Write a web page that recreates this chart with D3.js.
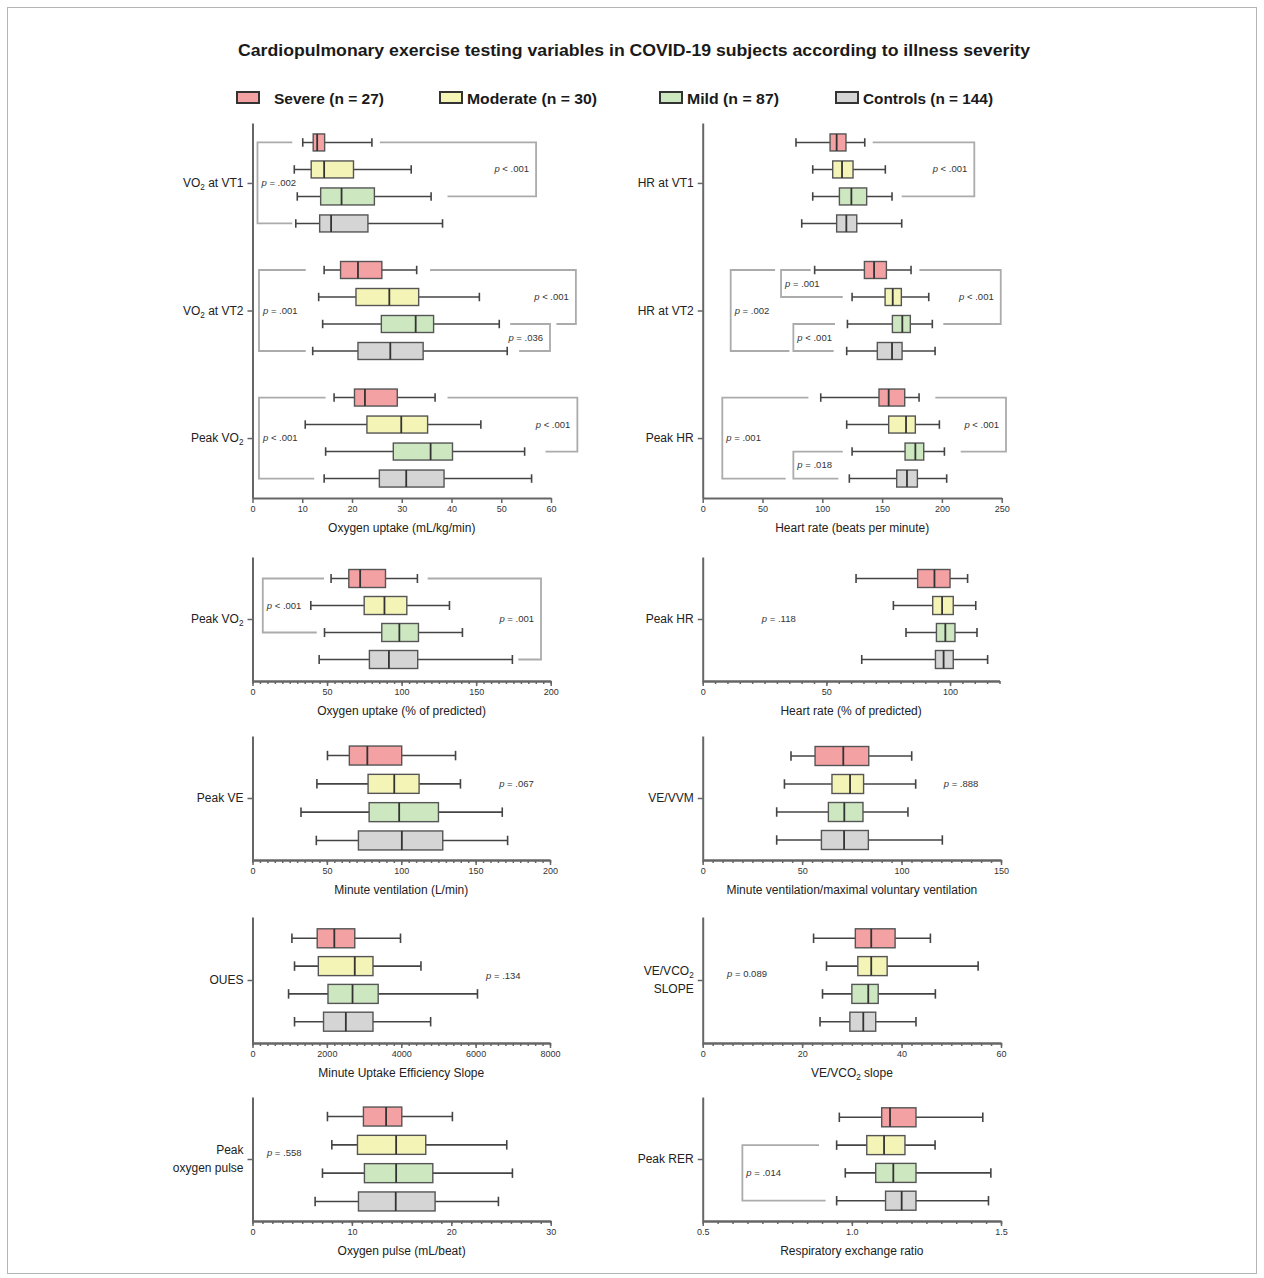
<!DOCTYPE html>
<html>
<head>
<meta charset="utf-8">
<script src="https://cdn.jsdelivr.net/npm/d3@7"></script>
<style>
  body { margin: 0; background: #fff; }
  svg  { font-family: "Liberation Sans", Arial, Helvetica, sans-serif; }
</style>
</head>
<body>
<div id="svg-container"></div>
<script>
// ---- data ---------------------------------------------------------------
// groups, in row order inside every category
var groups      = ["Severe (n = 27)", "Moderate (n = 30)", "Mild (n = 87)", "Controls (n = 144)"];
var groupColors = ["#f4a1a3", "#f5f4b7", "#cde8c1", "#d5d5d5"];

// every stat = [whisker low, q1, median, q3, whisker high], one per group
var vo2Labels = ["VO{2} at VT1", "VO{2} at VT2", "Peak VO{2}"];
var vo2Stats  = [
  [[10.1, 12.2, 13.0, 14.5, 24.0], [8.4, 11.8, 14.4, 20.3, 31.9], [9.0, 13.7, 17.9, 24.5, 35.9], [8.7, 13.5, 15.8, 23.2, 38.2]],
  [[14.4, 17.7, 21.2, 26.0, 33.0], [13.3, 20.8, 27.5, 33.4, 45.6], [14.1, 25.9, 32.8, 36.4, 49.6], [12.1, 21.2, 27.7, 34.3, 51.2]],
  [[16.4, 20.5, 22.6, 29.1, 36.7], [10.6, 23.0, 29.9, 35.2, 45.9], [14.7, 28.3, 35.8, 40.2, 54.7], [14.4, 25.5, 30.9, 38.5, 56.1]]
];
var vo2Ticks = [0, 10, 20, 30, 40, 50, 60];

var hrLabels = ["HR at VT1", "HR at VT2", "Peak HR"];
var hrStats  = [
  [[78.0, 106.5, 112.0, 119.8, 135.5], [92.0, 108.7, 116.5, 125.7, 152.7], [92.0, 114.3, 124.3, 137.1, 158.3], [82.8, 112.0, 120.1, 128.8, 166.4]],
  [[93.6, 135.2, 143.3, 153.6, 174.2], [124.9, 152.5, 158.9, 166.1, 189.0], [121.0, 158.6, 166.9, 173.6, 192.0], [120.4, 146.0, 158.3, 166.7, 194.3]],
  [[98.7, 147.4, 155.5, 168.9, 180.9], [120.4, 155.5, 170.0, 177.8, 197.9], [124.9, 169.2, 177.8, 184.8, 202.1], [122.6, 162.2, 170.8, 179.5, 204.0]]
];
var hrTicks = [0, 50, 100, 150, 200, 250];

var pctVo2Labels = ["Peak VO{2}"];
var pctVo2Stats  = [[[52.7, 64.6, 72.2, 89.2, 110.6], [39.1, 74.9, 88.5, 103.5, 132.1], [48.3, 86.7, 98.5, 111.3, 140.8], [44.7, 78.4, 91.5, 110.8, 174.3]]];
var pctVo2Ticks  = [0, 50, 100, 150, 200];

var pctHrLabels = ["Peak HR"];
var pctHrStats  = [[[62.0, 86.9, 93.7, 100.0, 107.1], [77.1, 93.0, 96.8, 101.3, 110.4], [82.2, 94.5, 98.1, 102.0, 110.9], [64.3, 94.1, 97.4, 101.3, 115.2]]];
var pctHrTicks  = [0, 50, 100];

var veLabels = ["Peak VE"];
var veStats  = [[[50.4, 65.1, 77.2, 100.3, 136.5], [43.3, 77.7, 95.3, 112.0, 139.8], [32.6, 78.4, 98.6, 125.0, 167.9], [42.9, 71.2, 100.4, 127.9, 171.5]]];
var veTicks  = [0, 50, 100, 150, 200];

var vvmLabels = ["VE/VVM"];
var vvmStats  = [[[44.4, 56.5, 70.7, 83.5, 105.1], [41.1, 65.0, 74.1, 80.9, 107.1], [37.2, 63.2, 71.2, 80.6, 103.2], [37.2, 59.7, 71.1, 83.3, 120.5]]];
var vvmTicks  = [0, 50, 100, 150];

var ouesLabels = ["OUES"];
var ouesStats  = [[[1060, 1740, 2200, 2750, 3980], [1130, 1770, 2750, 3240, 4530], [970, 2030, 2690, 3380, 6050], [1130, 1910, 2510, 3240, 4790]]];
var ouesTicks  = [0, 2000, 4000, 6000, 8000];

var slopeLabels = ["VE/VCO{2}|SLOPE"];
var slopeStats  = [[[22.3, 30.7, 33.9, 38.7, 45.8], [24.9, 31.2, 33.9, 37.1, 55.4], [24.1, 30.0, 33.3, 35.3, 46.8], [23.6, 29.6, 32.3, 34.8, 42.9]]];
var slopeTicks  = [0, 20, 40, 60];

var pulseLabels = ["Peak|oxygen pulse"];
var pulseStats  = [[[7.54, 11.16, 13.44, 15.02, 20.11], [7.98, 10.56, 14.45, 17.43, 25.58], [7.04, 11.26, 14.45, 18.14, 26.15], [6.30, 10.66, 14.41, 18.37, 24.74]]];
var pulseTicks  = [0, 10, 20, 30];

var rerLabels = ["Peak RER"];
var rerStats  = [[[0.958, 1.100, 1.128, 1.215, 1.439], [0.949, 1.050, 1.108, 1.178, 1.279], [0.978, 1.080, 1.139, 1.215, 1.466], [0.949, 1.113, 1.167, 1.215, 1.458]]];
var rerTicks  = [0.5, 1.0, 1.5];

// significance brackets: [category, first row, last row, vertical at, first end, second end, p text]
var vo2Brackets = [
  [0, 0, 3, 1.0, 8.0, 8.0, "= .002"],
  [0, 0, 2, 57.0, 25.6, 39.2, "< .001"],
  [1, 0, 3, 1.3, 10.7, 10.7, "= .001"],
  [1, 0, 2, 65.0, 35.7, 61.1, "< .001"],
  [1, 2, 3, 59.8, 51.8, 53.6, "= .036"],
  [2, 0, 3, 1.3, 14.7, 12.4, "< .001"],
  [2, 0, 2, 65.3, 39.2, 58.9, "< .001"]
];
var hrBrackets = [
  [0, 0, 2, 227.1, 142.1, 166.4, "< .001"],
  [1, 0, 3, 23.4, 60.5, 72.5, "= .002"],
  [1, 0, 1, 65.5, 90.3, 117.1, "= .001"],
  [1, 2, 3, 75.8, 110.6, 109.5, "< .001"],
  [1, 0, 2, 249.2, 181.2, 201.2, "< .001"],
  [2, 0, 3, 16.4, 88.4, 69.4, "= .001"],
  [2, 2, 3, 75.8, 117.1, 113.4, "= .018"],
  [2, 0, 2, 253.6, 194.5, 215.7, "< .001"]
];
var pctVo2Brackets = [
  [0, 0, 2, 6.9, 48.0, 43.1, "< .001"],
  [0, 0, 3, 193.5, 117.5, 178.3, "= .001"]
];
var rerBrackets = [
  [0, 1, 3, 0.633, 0.890, 0.912, "= .014"]
];

// free p values: [category, row position, x value, p text]
var pctHrNotes = [[0, 1.5, 23.9, "= .118"]];
var veNotes    = [[0, 1.0, 165.8, "= .067"]];
var vvmNotes   = [[0, 1.0, 121.2, "= .888"]];
var ouesNotes  = [[0, 1.35, 6280, "= .134"]];
var slopeNotes = [[0, 1.3, 4.9, "= 0.089"]];
var pulseNotes = [[0, 1.3, 1.45, "= .558"]];

// ---- layout -------------------------------------------------------------
var svgWidth  = 1264;
var svgHeight = 1278;

var L = 252.5, R = 702.7;   // x of the left / right panel axes

var panels = [
  { labels: vo2Labels, stats: vo2Stats, domain: [0, 60], ticks: vo2Ticks, minor: 0, title: "Oxygen uptake (mL/kg/min)",
    brackets: vo2Brackets, notes: [], x0: L, x1: 551, top: 123, bottom: 498, step: 27, boxH: 17, pad: 0.47 },
  { labels: hrLabels, stats: hrStats, domain: [0, 250], ticks: hrTicks, minor: 0, title: "Heart rate (beats per minute)",
    brackets: hrBrackets, notes: [], x0: R, x1: 1001.7, top: 123, bottom: 498, step: 27, boxH: 17, pad: 0.47 },
  { labels: pctVo2Labels, stats: pctVo2Stats, domain: [0, 200], ticks: pctVo2Ticks, minor: 5, title: "Oxygen uptake (% of predicted)",
    brackets: pctVo2Brackets, notes: [], x0: L, x1: 550.7, top: 557, bottom: 681, step: 27, boxH: 18, pad: 0.5 },
  { labels: pctHrLabels, stats: pctHrStats, domain: [0, 120], ticks: pctHrTicks, minor: 5, title: "Heart rate (% of predicted)",
    brackets: [], notes: pctHrNotes, x0: R, x1: 999.5, top: 557, bottom: 681, step: 27, boxH: 18, pad: 0.5 },
  { labels: veLabels, stats: veStats, domain: [0, 200], ticks: veTicks, minor: 5, title: "Minute ventilation (L/min)",
    brackets: [], notes: veNotes, x0: L, x1: 550, top: 736, bottom: 860, step: 28.3, boxH: 19, pad: 0.5 },
  { labels: vvmLabels, stats: vvmStats, domain: [0, 150], ticks: vvmTicks, minor: 5, title: "Minute ventilation/maximal voluntary ventilation",
    brackets: [], notes: vvmNotes, x0: R, x1: 1001, top: 736, bottom: 860, step: 28, boxH: 19, pad: 0.5 },
  { labels: ouesLabels, stats: ouesStats, domain: [0, 8000], ticks: ouesTicks, minor: 200, title: "Minute Uptake Efficiency Slope",
    brackets: [], notes: ouesNotes, x0: L, x1: 550, top: 917, bottom: 1043, step: 27.8, boxH: 19, pad: 0.5 },
  { labels: slopeLabels, stats: slopeStats, domain: [0, 60], ticks: slopeTicks, minor: 2, title: "VE/VCO{2} slope",
    brackets: [], notes: slopeNotes, x0: R, x1: 1001, top: 917, bottom: 1043, step: 27.8, boxH: 19, pad: 0.5 },
  { labels: pulseLabels, stats: pulseStats, domain: [0, 30], ticks: pulseTicks, minor: 1, title: "Oxygen pulse (mL/beat)",
    brackets: [], notes: pulseNotes, x0: L, x1: 550.7, top: 1097, bottom: 1221, step: 28.3, boxH: 19, pad: 0.5 },
  { labels: rerLabels, stats: rerStats, domain: [0.5, 1.5], ticks: rerTicks, minor: 0.05, title: "Respiratory exchange ratio",
    brackets: rerBrackets, notes: [], x0: R, x1: 1001, top: 1097, bottom: 1221, step: 27.8, boxH: 19, pad: 0.5, fmt: ".1f" }
];

// legend placement: icon x, text x, text width
var legendPos = [[237, 274, 110], [440, 467, 130], [660, 687, 92], [836, 863, 130]];

// ---- helpers --------------------------------------------------------------
// writes text where {..} is a subscript
function rich(textSel, str) {
  var shift = 0;
  str.split(/(\{[^}]*\})/).forEach(function(part) {
    if (!part) return;
    if (part[0] === "{") {
      textSel.append("tspan").attr("dy", 3).attr("font-size", "0.68em").text(part.slice(1, -1));
      shift = 3;
    } else {
      textSel.append("tspan").attr("dy", -shift).text(part);
      shift = 0;
    }
  });
}

function pText(sel, txt) {
  sel.append("tspan").attr("font-style", "italic").text("p");
  sel.append("tspan").text(" " + txt);
}

function styleAxis(a) {
  a.attr("font-family", null);
  a.selectAll("path.domain").attr("stroke", "#666").attr("stroke-width", 2);
  a.selectAll(".tick line").attr("stroke", "#666").attr("stroke-width", 1.5);
  a.selectAll(".tick text")
    .attr("font-size", 9)
    .attr("fill", "#333");
}

// ---- draw -----------------------------------------------------------------
var svg = d3.select("#svg-container")
  .append("svg")
  .attr("width", svgWidth)
  .attr("height", svgHeight);

svg.append("rect")
  .attr("width", "100%").attr("height", "100%")
  .style("fill", "white");

// frame round the figure
svg.append("rect")
  .attr("x", 7.5).attr("y", 7.5)
  .attr("width", 1249).attr("height", 1266)
  .attr("fill", "none")
  .attr("stroke", "#b5b5b5")
  .attr("stroke-width", 1);

// title
svg.append("text")
  .attr("x", 634).attr("y", 56)
  .attr("text-anchor", "middle")
  .attr("font-size", 17)
  .attr("font-weight", "bold")
  .attr("fill", "#1a1a1a")
  .attr("textLength", 792)
  .attr("lengthAdjust", "spacingAndGlyphs")
  .text("Cardiopulmonary exercise testing variables in COVID-19 subjects according to illness severity");

// legend
var legend = svg.append("g");
groups.forEach(function(name, i) {
  legend.append("rect")
    .attr("x", legendPos[i][0]).attr("y", 92)
    .attr("width", 22).attr("height", 11)
    .attr("fill", groupColors[i])
    .attr("stroke", "#333")
    .attr("stroke-width", 2);
  legend.append("text")
    .attr("x", legendPos[i][1]).attr("y", 104)
    .attr("font-size", 15)
    .attr("font-weight", "bold")
    .attr("fill", "#1a1a1a")
    .attr("textLength", legendPos[i][2])
    .attr("lengthAdjust", "spacingAndGlyphs")
    .text(name);
});

panels.forEach(function(p) {
  var g = svg.append("g");

  var x = d3.scaleLinear().domain(p.domain).range([p.x0, p.x1]);
  var yCat = d3.scalePoint()
    .domain(p.labels.map(function(d, i) { return i; }))
    .range([p.top, p.bottom])
    .padding(p.pad);
  var rowY = function(c, r) { return yCat(c) + (r - 1.5) * p.step; };

  // brackets first so that boxes sit on top
  p.brackets.forEach(function(b) {
    var ya = rowY(b[0], b[1]), yb = rowY(b[0], b[2]);
    var path = d3.path();
    path.moveTo(x(b[4]), ya);
    path.lineTo(x(b[3]), ya);
    path.lineTo(x(b[3]), yb);
    path.lineTo(x(b[5]), yb);
    g.append("path")
      .attr("d", path.toString())
      .attr("fill", "none")
      .attr("stroke", "#ababab")
      .attr("stroke-width", 1.8);
    var isLeft = b[3] < b[4];
    var t = g.append("text")
      .attr("x", x(b[3]) + (isLeft ? 4 : -7))
      .attr("y", (ya + yb) / 2 + 3)
      .attr("text-anchor", isLeft ? "start" : "end")
      .attr("font-size", 9.5)
      .attr("fill", "#333");
    pText(t, b[6]);
  });

  p.notes.forEach(function(n) {
    var t = g.append("text")
      .attr("x", x(n[2]))
      .attr("y", rowY(n[0], n[1]) + 3)
      .attr("font-size", 9.5)
      .attr("fill", "#333");
    pText(t, n[3]);
  });

  // boxes
  p.stats.forEach(function(cat, c) {
    var rows = g.selectAll(null)
      .data(cat)
      .enter()
      .append("g")
      .attr("transform", function(d, r) { return "translate(0," + rowY(c, r) + ")"; });

    rows.append("line")
      .attr("x1", function(d) { return x(d[0]); })
      .attr("x2", function(d) { return x(d[4]); })
      .attr("stroke", "#444").attr("stroke-width", 1.6);
    [0, 4].forEach(function(k) {
      rows.append("line")
        .attr("x1", function(d) { return x(d[k]); })
        .attr("x2", function(d) { return x(d[k]); })
        .attr("y1", -p.boxH * 0.25).attr("y2", p.boxH * 0.25)
        .attr("stroke", "#444").attr("stroke-width", 1.6);
    });
    rows.append("rect")
      .attr("x", function(d) { return x(d[1]); })
      .attr("width", function(d) { return x(d[3]) - x(d[1]); })
      .attr("y", -p.boxH / 2)
      .attr("height", p.boxH)
      .attr("fill", function(d, r) { return groupColors[r]; })
      .attr("stroke", "#555").attr("stroke-width", 1.4);
    rows.append("line")
      .attr("x1", function(d) { return x(d[2]); })
      .attr("x2", function(d) { return x(d[2]); })
      .attr("y1", -p.boxH / 2).attr("y2", p.boxH / 2)
      .attr("stroke", "#333").attr("stroke-width", 1.8);
  });

  // x axis: minor ticks in their own group, then major ticks with labels
  if (p.minor) {
    var minorTicks = d3.range(Math.round((p.domain[1] - p.domain[0]) / p.minor) + 1)
      .map(function(i) { return p.domain[0] + i * p.minor; });
    var minorAxis = g.append("g")
      .attr("transform", "translate(0," + p.bottom + ")")
      .call(d3.axisBottom(x).tickValues(minorTicks).tickSize(3).tickSizeOuter(0).tickFormat(""));
    styleAxis(minorAxis);
  }
  var fmt = d3.format(p.fmt || "d");
  var xAxis = g.append("g")
    .attr("transform", "translate(0," + p.bottom + ")")
    .call(d3.axisBottom(x).tickValues(p.ticks).tickSize(5).tickSizeOuter(0).tickPadding(3).tickFormat(fmt));
  styleAxis(xAxis);

  // axis title
  var tt = g.append("text")
    .attr("x", (p.x0 + p.x1) / 2)
    .attr("y", p.bottom + 34)
    .attr("text-anchor", "middle")
    .attr("font-size", 12)
    .attr("fill", "#222");
  rich(tt, p.title);

  // y axis with one tick per category
  var yAxis = g.append("g")
    .attr("transform", "translate(" + p.x0 + ",0)")
    .call(d3.axisLeft(yCat).tickSize(5).tickSizeOuter(0).tickFormat(""));
  styleAxis(yAxis);

  p.labels.forEach(function(lab, c) {
    var lines = lab.split("|");
    lines.forEach(function(line, k) {
      var t = g.append("text")
        .attr("x", p.x0 - 9)
        .attr("y", yCat(c) + 4 + (k - (lines.length - 1) / 2) * 18)
        .attr("text-anchor", "end")
        .attr("font-size", 12)
        .attr("fill", "#222");
      rich(t, line);
    });
  });
});
</script>
</body>
</html>
